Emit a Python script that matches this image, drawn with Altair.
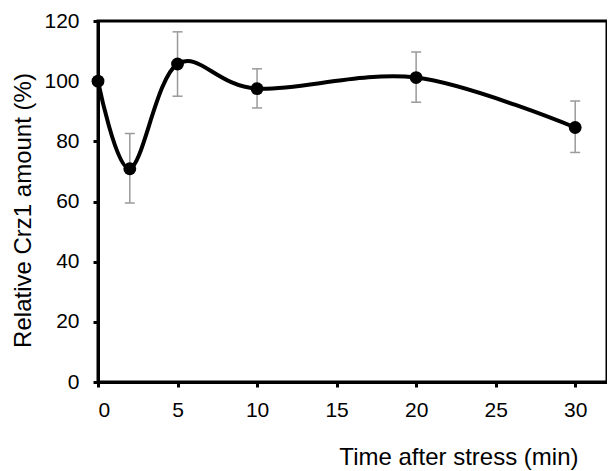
import altair as alt
import pandas as pd

# Data
time = [0, 2, 5, 10, 20, 30]
amount = [100.0, 70.9, 105.7, 97.5, 101.2, 84.6]
err_low = [None, 59.5, 95.0, 91.1, 93.0, 76.3]
err_high = [None, 82.6, 116.4, 104.1, 109.7, 93.4]
x_ticks = [0, 5, 10, 15, 20, 25, 30]
y_ticks = [0, 20, 40, 60, 80, 100, 120]

df = pd.DataFrame({"time": time, "amount": amount})
err = pd.DataFrame({"time": time, "lo": err_low, "hi": err_high}).dropna()

FONT = "Liberation Sans"

x_axis = alt.Axis(
    values=x_ticks, title="Time after stress (min)", grid=False,
    titleX=480, titleY=75, titleAlign="right", titleBaseline="middle",
    labelPadding=12,
)
y_axis = alt.Axis(
    values=y_ticks, title="Relative Crz1 amount (%)", grid=False,
    titleX=-75, titleY=189, titleAngle=270, titleAlign="center",
    titleBaseline="middle", labelPadding=14,
)
xs = alt.Scale(domain=[0, 32], nice=False, zero=False)
ys = alt.Scale(domain=[0, 120], nice=False)

X = alt.X("time:Q", scale=xs, axis=x_axis)

rules = alt.Chart(err).mark_rule(color="#9a9a9a", strokeWidth=1.5).encode(
    x=X, y=alt.Y("lo:Q", scale=ys, axis=y_axis), y2="hi:Q"
)
cap_lo = alt.Chart(err).mark_tick(
    orient="horizontal", size=10, thickness=1.5, color="#9a9a9a", opacity=1
).encode(x=X, y=alt.Y("lo:Q", scale=ys, axis=y_axis))
cap_hi = alt.Chart(err).mark_tick(
    orient="horizontal", size=10, thickness=1.5, color="#9a9a9a", opacity=1
).encode(x=X, y=alt.Y("hi:Q", scale=ys, axis=y_axis))

line = alt.Chart(df).mark_line(
    interpolate="cardinal", color="black", strokeWidth=4
).encode(x=X, y=alt.Y("amount:Q", scale=ys, axis=y_axis))
points = alt.Chart(df).mark_circle(size=165, color="black", opacity=1).encode(
    x=X, y=alt.Y("amount:Q", scale=ys, axis=y_axis)
)

chart = (
    alt.layer(rules, cap_lo, cap_hi, line, points)
    .properties(
        width=509, height=361,
        autosize=alt.AutoSizeParams(type="none"),
        padding={"left": 90, "top": 13, "right": 0, "bottom": 89},
        background="white",
    )
    .configure_view(stroke="black", strokeWidth=3)
    .configure_axis(
        domainColor="black", domainWidth=3, tickColor="black", tickWidth=3,
        tickSize=5, labelFont=FONT, labelFontSize=21, labelColor="black",
        titleFont=FONT, titleFontSize=24, titleFontWeight="normal",
        titleColor="black",
    )
)

chart.save("out.html", embed_options={"renderer": "svg", "actions": False})
